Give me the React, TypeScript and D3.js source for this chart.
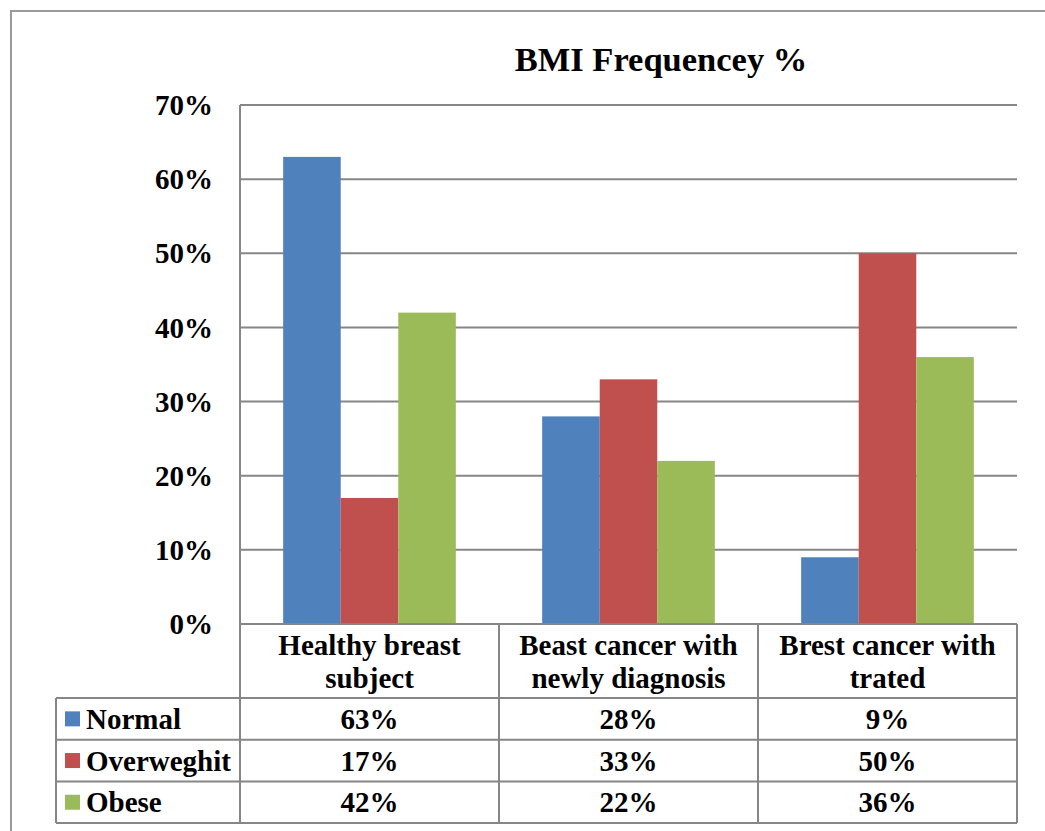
import React from "react";
import * as d3 from "d3";

const categories: string[][] = [
  ["Healthy breast", "subject"],
  ["Beast cancer with", "newly diagnosis"],
  ["Brest cancer with", "trated"],
];
const seriesNames = ["Normal", "Overweghit", "Obese"];
const normal = [63, 28, 9];
const overweight = [17, 33, 50];
const obese = [42, 22, 36];
const seriesColors = ["#4F81BD", "#C0504D", "#9BBB59"];
const yTicks = [0, 10, 20, 30, 40, 50, 60, 70];
const title = "BMI Frequencey %";

const W = 1045;
const H = 831;
const FONT = "'Liberation Serif', 'Times New Roman', serif";
const GRID = "#868686";

export default function App() {
  const series = [normal, overweight, obese];
  const left = 240;
  const right = 1017;
  const top = 105;
  const bottom = 624;
  const x = d3
    .scaleBand<number>()
    .domain(categories.map((_, i) => i))
    .range([left, right])
    .padding(0);
  const inner = d3
    .scaleBand<number>()
    .domain(seriesNames.map((_, i) => i))
    .range([x.bandwidth() / 6, (x.bandwidth() * 5) / 6])
    .padding(0);
  const y = d3.scaleLinear().domain([0, 70]).range([bottom, top]);

  const headerBottom = 698;
  const rowH = 41.7;
  const tableLeft = 56;
  const rowY = (r: number) => headerBottom + r * rowH;
  const FS = 29;

  return (
    <svg
      width={W}
      height={H}
      style={{ position: "absolute", left: 0, top: 0, background: "#fff" }}
      fontFamily={FONT}
    >
      <rect x={0} y={0} width={W} height={H} fill="#fff" />
      {/* outer frame */}
      <path d={`M11,${H + 5} V11 H${W + 5}`} fill="none" stroke="#9a9a9a" strokeWidth={2} />

      <text x={661} y={71} textAnchor="middle" fontSize={34.5} fontWeight="bold" fill="#000">
        {title}
      </text>

      {/* gridlines */}
      {yTicks.map((t) => (
        <line key={t} x1={left} x2={right} y1={y(t)} y2={y(t)} stroke={GRID} strokeWidth={2} />
      ))}
      {yTicks.map((t) => (
        <text
          key={"l" + t}
          x={213}
          y={y(t)}
          dy="0.35em"
          textAnchor="end"
          fontSize={FS}
          fontWeight="bold"
        >
          {t}%
        </text>
      ))}
      <line x1={left} x2={left} y1={top} y2={bottom} stroke={GRID} strokeWidth={2} />

      {/* bars */}
      {series.map((vals, s) =>
        vals.map((v, c) => (
          <rect
            key={s + "-" + c}
            x={(x(c) as number) + (inner(s) as number)}
            y={y(v)}
            width={inner.bandwidth()}
            height={y(0) - y(v)}
            fill={seriesColors[s]}
          />
        ))
      )}

      {/* data table */}
      <g stroke={GRID} strokeWidth={2} fill="none">
        <line x1={left} x2={right} y1={bottom} y2={bottom} />
        {[0, 1, 2, 3].map((r) => (
          <line key={r} x1={tableLeft} x2={right} y1={rowY(r)} y2={rowY(r)} />
        ))}
        <line x1={tableLeft} x2={tableLeft} y1={rowY(0)} y2={rowY(3)} />
        {categories.map((_, c) => (
          <line key={c} x1={x(c) as number} x2={x(c) as number} y1={bottom} y2={rowY(3)} />
        ))}
        <line x1={right} x2={right} y1={bottom} y2={rowY(3)} />
      </g>

      {categories.map((lines, c) => (
        <text
          key={"c" + c}
          x={(x(c) as number) + x.bandwidth() / 2}
          textAnchor="middle"
          fontSize={FS}
          fontWeight="bold"
        >
          {lines.map((ln, i) => (
            <tspan key={i} x={(x(c) as number) + x.bandwidth() / 2} y={655 + i * 33}>
              {ln}
            </tspan>
          ))}
        </text>
      ))}

      {seriesNames.map((name, s) => (
        <g key={name}>
          <rect x={65} y={rowY(s) + rowH / 2 - 7.5} width={15} height={15} fill={seriesColors[s]} />
          <text x={86} y={rowY(s) + rowH / 2} dy="0.35em" fontSize={FS} fontWeight="bold">
            {name}
          </text>
          {series[s].map((v, c) => (
            <text
              key={c}
              x={(x(c) as number) + x.bandwidth() / 2}
              y={rowY(s) + rowH / 2}
              dy="0.35em"
              textAnchor="middle"
              fontSize={FS}
              fontWeight="bold"
            >
              {v}%
            </text>
          ))}
        </g>
      ))}
    </svg>
  );
}
